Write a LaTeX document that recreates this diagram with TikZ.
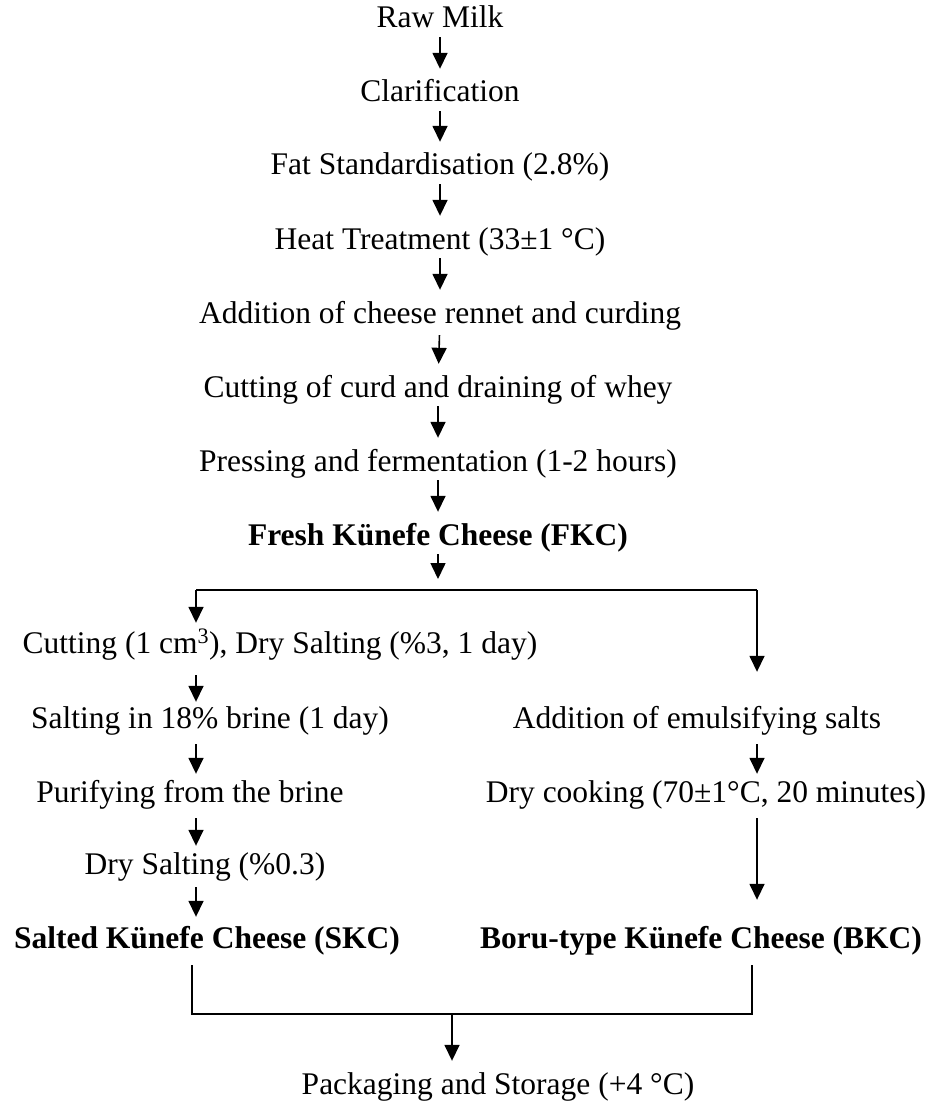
\documentclass[tikz,border=0pt]{standalone}
\usepackage{fontspec}
\setmainfont{Liberation Serif}
\usepackage{tikz}
\usetikzlibrary{arrows.meta}
\tikzset{
  stage/.style={inner sep=0pt,text height=22pt,text depth=6pt,font=\fontsize{31.5}{36}\selectfont},
  flow/.style={line width=1.6pt,-{Triangle[length=16pt,width=15pt]},shorten <=3pt,shorten >=11pt},
  sideflow/.style={flow,shorten <=10pt,shorten >=6pt},
  joint/.style={line width=1.6pt}
}

\begin{document}
\begin{tikzpicture}[x=1pt,y=-1pt]
  \useasboundingbox (0,0) rectangle (932,1107);

  %main line
  \node[stage] (raw) at (440,20) {Raw Milk};
  \node[stage] (clar) at (440,94) {Clarification};
  \node[stage] (fat) at (440,167) {Fat Standardisation (2.8\%)};
  \node[stage] (heat) at (440,241) {Heat Treatment (33±1 °C)};
  \node[stage] (rennet) at (440,315) {Addition of cheese rennet and curding};
  \node[stage] (curd) at (438,389) {Cutting of curd and draining of whey};
  \node[stage] (press) at (438,463) {Pressing and fermentation (1-2 hours)};
  \node[stage,font=\fontsize{31.5}{36}\selectfont\bfseries] (fkc) at (438,537) {Fresh Künefe Cheese (FKC)};

  \draw[flow] (raw) -- (clar);
  \draw[flow] (clar) -- (fat);
  \draw[flow] (fat) -- (heat);
  \draw[flow] (heat) -- (rennet);
  \draw[flow,shorten <=6pt] (rennet) -- (curd);
  \draw[flow] (curd) -- (press);
  \draw[flow] (press) -- (fkc);

  %split
  \coordinate (split) at (438,590);
  \coordinate (lsplit) at (196,590);
  \coordinate (rsplit) at (757,590);
  \draw[flow] (fkc) -- (split);
  \draw[joint] (lsplit) -- (rsplit);

  %left branch
  \node[stage] (cut) at (280,645) {Cutting (1 cm\textsuperscript{3}), Dry Salting (\%3, 1 day)};
  \node[stage] (brine) at (210,720) {Salting in 18\% brine (1 day)};
  \node[stage] (purify) at (190,794) {Purifying from the brine};
  \node[stage] (drysalt) at (205,866) {Dry Salting (\%0.3)};
  \node[stage,font=\fontsize{31.5}{36}\selectfont\bfseries] (skc) at (207,940) {Salted Künefe Cheese (SKC)};

  \draw[flow,shorten <=0pt,shorten >=8pt] (lsplit) -- (cut.north -| lsplit);
  \draw[sideflow,shorten <=16pt,shorten >=4pt] (cut.south -| lsplit) -- (brine.north -| lsplit);
  \draw[sideflow] (brine.south -| lsplit) -- (purify.north -| lsplit);
  \draw[sideflow] (purify.south -| lsplit) -- (drysalt.north -| lsplit);
  \draw[sideflow,shorten <=7pt,shorten >=9pt] (drysalt.south -| lsplit) -- (skc.north -| lsplit);

  %right branch
  \node[stage] (emul) at (697,720) {Addition of emulsifying salts};
  \node[stage] (cook) at (706,794) {Dry cooking (70±1°C, 20 minutes)};
  \node[stage,font=\fontsize{31.5}{36}\selectfont\bfseries] (bkc) at (701,940) {Boru-type Künefe Cheese (BKC)};

  \draw[flow,shorten <=0pt,shorten >=34pt] (rsplit) -- (emul.north -| rsplit);
  \draw[sideflow] (emul.south -| rsplit) -- (cook.north -| rsplit);
  \draw[sideflow,shorten >=26pt] (cook.south -| rsplit) -- (bkc.north -| rsplit);

  %join
  \coordinate (ljoin) at (192,1014);
  \coordinate (rjoin) at (752,1014);
  \coordinate (mjoin) at (452,1014);
  \node[stage] (pack) at (498,1086) {Packaging and Storage (+4 °C)};
  \draw[joint,shorten <=11pt,shorten >=11pt] (skc.south -| ljoin) -- (ljoin) -- (rjoin) -- (bkc.south -| rjoin);
  \draw[flow,shorten <=0pt] (mjoin) -- (pack.north -| mjoin);

\end{tikzpicture}
\end{document}
